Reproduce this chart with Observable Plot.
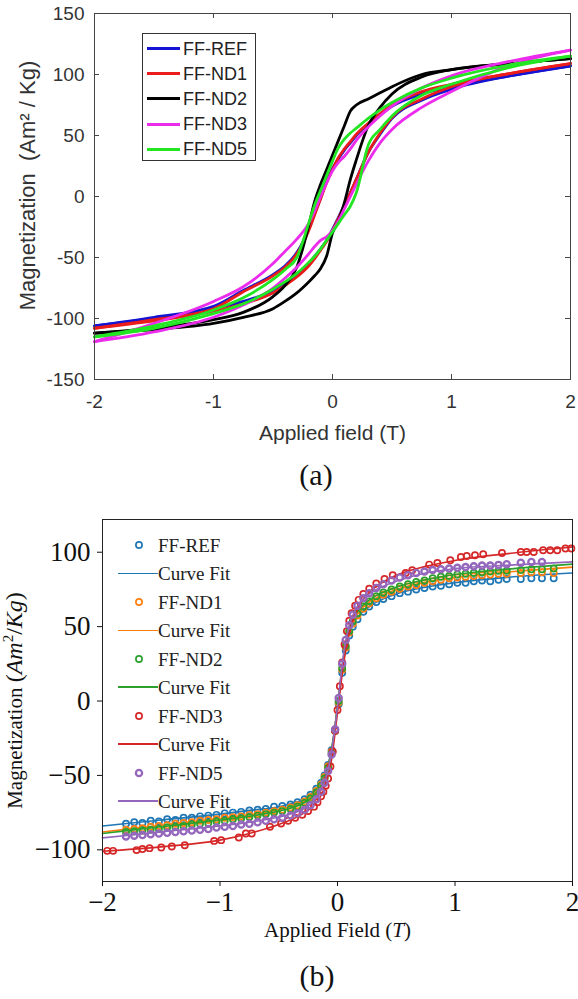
<!DOCTYPE html>
<html><head><meta charset="utf-8">
<script src="https://cdn.jsdelivr.net/npm/d3@7"></script>
<script src="https://cdn.jsdelivr.net/npm/@observablehq/plot@0.6"></script>
<style>
html,body{margin:0;padding:0;background:#fff;}
body{width:578px;height:999px;position:relative;overflow:hidden;}
#pa,#pb{position:absolute;left:0;}
.cap{position:absolute;transform:translate(-50%,-50%);font-family:"Liberation Serif",serif;font-size:30px;color:#111;line-height:1;white-space:nowrap;}
#legA{position:absolute;left:142px;top:33px;width:114px;height:128px;box-sizing:border-box;border:1px solid #333;background:#fff;font-family:"Liberation Sans",Arial,sans-serif;font-size:18px;color:#222;}
#legB{position:absolute;left:0;top:0;font-family:"Liberation Serif",serif;font-size:19px;color:#222;}
.row{position:absolute;height:0;}
.row span{position:absolute;white-space:nowrap;transform:translateY(-50%);line-height:1;}
.row i{position:absolute;display:block;}
</style></head><body>
<div id="pa" style="top:0"></div>
<div id="legA"></div>
<div class="cap" style="left:316px;top:475px">(a)</div>
<div id="pb" style="top:480px"></div>
<div id="legB"></div>
<div class="cap" style="left:317px;top:976px">(b)</div>
<script>
// ---------- Panel (a) data ----------
const seriesA = ["FF-REF", "FF-ND1", "FF-ND2", "FF-ND3", "FF-ND5"];
const colorsA = ["#1414d2", "#ea1c1c", "#000000", "#ec2cec", "#22e622"];
const fieldA = [-2, -1.5, -1, -0.75, -0.5, -0.4, -0.3, -0.2, -0.15, -0.1, -0.05, 0, 0.05, 0.1, 0.15, 0.2, 0.3, 0.4, 0.5, 0.75, 1, 1.5, 2];
// descending branch (coming from +2 T) and ascending branch, listed at fieldA
const descREF = [-106, -99, -90, -77, -64, -57, -46, -27, -14, -1, 12, 23, 31, 38, 44, 50, 59, 67, 74, 84, 90, 99, 107];
const ascREF  = [-106, -100, -92, -86, -77, -71, -64, -55, -49, -43, -36, -27, -17, -7, 3, 14, 36, 51, 64, 79, 88, 99, 107];
const descND1 = [-108, -101, -92, -78, -65, -58, -47, -28, -15, -2, 11, 22, 32, 39, 45, 51, 60, 68, 75, 86, 92, 101, 109];
const ascND1  = [-108, -102, -94, -88, -79, -73, -66, -57, -51, -44, -37, -28, -18, -7, 3, 14, 36, 52, 65, 80, 90, 101, 109];
const descND2 = [-112, -108, -101, -95, -82, -73, -58, -24, -4, 10, 22, 34, 46, 58, 70, 75, 80, 85, 90, 100, 104, 109, 113];
const ascND2  = [-112, -109, -104, -99, -92, -86, -79, -70, -65, -59, -49, -30, -20, -5, 14, 30, 58, 73, 84, 98, 104, 109, 113];
const descND3 = [-119, -104, -86, -74, -55, -45, -35, -22, -12, 0, 11, 21, 28, 33, 39, 46, 57, 66, 74, 89, 99, 111, 120];
const ascND3  = [-119, -111, -99, -89, -75, -67, -58, -47, -41, -36, -33, -28, -20, -10, 0, 10, 29, 44, 55, 73, 86, 108, 120];
const descND5 = [-115, -106, -93, -83, -68, -60, -50, -22, -7, 5, 17, 29, 40, 47, 52, 56, 64, 71, 77, 89, 97, 108, 115];
const ascND5  = [-115, -108, -96, -88, -76, -70, -63, -54, -49, -43, -36, -29, -22, -15, -8, 3, 42, 55, 66, 83, 92, 106, 115];
const ticksAx = [-2, -1, 0, 1, 2];
const ticksAy = [-150, -100, -50, 0, 50, 100, 150];

// ---------- Panel (b) data ----------
const seriesB = ["FF-REF", "FF-ND1", "FF-ND2", "FF-ND3", "FF-ND5"];
const colorsB = ["#1f77b4", "#ff7f0e", "#2ca02c", "#d62728", "#9467bd"];
const fieldB = [-1.8, -1.73, -1.66, -1.59, -1.52, -1.45, -1.38, -1.31, -1.24, -1.17, -1.1, -1.03, -0.96, -0.89, -0.82, -0.75, -0.68, -0.61, -0.54, -0.47, -0.4, -0.34, -0.28, -0.23, -0.18, -0.14, -0.11, -0.08, -0.05, -0.02, 0.01, 0.04, 0.07, 0.1, 0.13, 0.17, 0.22, 0.27, 0.33, 0.39, 0.46, 0.53, 0.6, 0.67, 0.74, 0.81, 0.88, 0.95, 1.02, 1.09, 1.16, 1.23, 1.3, 1.37, 1.44, 1.56, 1.65, 1.74, 1.84];
const ptsREF = [-82.5, -81.5, -82, -80.5, -81, -79.5, -80, -78.5, -78.5, -77.5, -77, -76.5, -75.5, -75, -74.5, -73.5, -73, -72.5, -71, -70.5, -69.5, -68, -66, -63, -59, -55, -50, -43, -33, -20, -2, 19, 34, 44, 50, 55, 60, 63.5, 66.5, 68.5, 70.5, 72.5, 73.5, 75, 76, 77, 77.5, 78.5, 79.5, 79.5, 80.5, 81, 80.5, 81.5, 82, 82, 82.5, 82.5, 82.5];
const ptsND1 = [-86.5, -86, -85.5, -84.5, -84, -83.5, -82.5, -82, -81.5, -80.5, -80, -79.5, -78.5, -78, -77.5, -76.5, -76, -75, -74, -73, -71.5, -70, -67.5, -64.5, -60.5, -56, -51, -44, -34, -20, -1, 21, 36, 46, 52, 57.5, 62, 65.5, 69, 71.5, 73.5, 75.5, 77, 78, 79.5, 80.5, 81.5, 82.5, 83, 83.5, 84, 84.5, 85, 85.5, 85.5, 86, 86.5, 86.5, 86];
const ptsND2 = [-88, -87.5, -87, -86.5, -86, -85, -84.5, -84, -83, -82.5, -82, -81, -80.5, -79.5, -79, -78, -77, -76, -75, -74, -72.5, -71, -68.5, -65.5, -61.5, -57, -52, -45, -35, -20, 0, 22, 37, 47, 53.5, 59, 63.5, 67, 70.5, 73, 75, 77, 78.5, 80, 81, 82.5, 83.5, 84, 85, 85.5, 86, 86.5, 87, 87.5, 87.5, 88, 88.5, 88.5, 89];
const ptsND5 = [-91, -90.5, -90, -89.5, -89, -88.5, -88, -87.5, -87, -86.5, -86, -85, -84.5, -84, -83, -82.5, -81.5, -80.5, -79.5, -78.5, -77, -75.5, -73, -70, -66, -61, -55, -47, -36, -19, 2, 25, 41, 51, 58, 64, 69, 72.5, 76, 78.5, 81, 83, 84.5, 86, 87, 88, 88.5, 89, 89.5, 90, 90.5, 91, 91, 91.5, 92, 93, 93.5, 93.5, null];
const fieldND3 = [-1.96, -1.91, -1.71, -1.66, -1.6, -1.5, -1.41, -1.3, -1.05, -0.99, -0.84, -0.78, -0.73, -0.575, -0.48, -0.42, -0.36, -0.3, -0.25, -0.2, -0.17, -0.14, -0.12, -0.1, -0.08, -0.06, -0.04, -0.02, 0, 0.02, 0.04, 0.06, 0.08, 0.1, 0.12, 0.15, 0.18, 0.22, 0.27, 0.33, 0.4, 0.47, 0.58, 0.636, 0.78, 0.85, 0.96, 1.05, 1.1, 1.17, 1.24, 1.4, 1.56, 1.61, 1.67, 1.75, 1.81, 1.87, 1.94, 1.99];
const ptsND3 = [-100.7, -100.7, -100.2, -99.5, -98.9, -98.4, -97.8, -96.9, -94, -93.5, -91.7, -89, -89, -84.5, -82.3, -80.5, -78.5, -76.5, -74, -71, -68, -64, -61, -57, -52, -44, -34, -20, -6, 10, 26, 38, 47, 54, 59, 64, 68, 72, 75.5, 79, 82, 84.5, 86, 87.9, 91.7, 92.8, 94.6, 96.8, 97.5, 98, 98.6, 99.5, 100.2, 100.2, 100.2, 101.3, 101.3, 101.3, 102.5, 102.5];
const fitField = [-2, -1.5, -1, -0.75, -0.5, -0.4, -0.3, -0.2, -0.15, -0.1, -0.05, 0, 0.05, 0.1, 0.15, 0.2, 0.3, 0.4, 0.5, 0.75, 1, 1.5, 2];
const fitREF = [-84, -80, -76, -73.5, -71, -69, -66.5, -61, -56, -48, -32, -4, 27, 45, 54, 59, 65, 69, 72, 76.5, 79.5, 83.5, 86];
const fitND1 = [-88, -83.5, -79, -76.5, -73, -71, -68, -62.5, -57, -49, -33, -4, 28, 47, 56, 61.5, 68, 72, 75, 80, 83, 87, 90];
const fitND2 = [-89, -84.5, -80, -77.5, -74, -72, -69, -63.5, -58, -50, -33, -4, 29, 48, 57.5, 63, 69.5, 73.5, 76.5, 81.5, 85, 89, 92];
const fitND3 = [-101, -98, -93.5, -89, -83, -80, -76, -70, -65, -56, -39, -8, 24, 46, 58, 66, 75, 80.5, 84.5, 90.5, 94.5, 99.5, 103.5];
const fitND5 = [-92, -88, -84, -81.5, -78, -76, -73, -67, -61, -52, -34, -4, 31, 51, 61, 67, 73.5, 77.5, 80.5, 86, 89, 91.5, 93.5];
const ticksBx = [-2, -1, 0, 1, 2];
const ticksBy = [-100, -50, 0, 50, 100];

// ---------- build tables ----------
const loopsA = [[descREF, ascREF], [descND1, ascND1], [descND2, ascND2], [descND3, ascND3], [descND5, ascND5]]
  .map(([d, a]) => fieldA.flatMap((H, i) => [{H, M: d[i], branch: "desc"}, {H, M: a[i], branch: "asc"}]));
const ptsB = [[fieldB, ptsREF], [fieldB, ptsND1], [fieldB, ptsND2], [fieldND3, ptsND3], [fieldB, ptsND5]]
  .map(([hs, ms]) => hs.map((H, i) => ({H, M: ms[i]})).filter(d => d.M != null));
const fitsB = [fitREF, fitND1, fitND2, fitND3, fitND5].map(ms => fitField.map((H, i) => ({H, M: ms[i]})));

// ---------- Panel (a) ----------
const W = 578;
const mA = {left: 94, right: 8, top: 13, bottom: 71}, hA = 450;
const iwA = W - mA.left - mA.right, ihA = hA - mA.top - mA.bottom;
const plotA = Plot.plot({
  width: W, height: hA,
  marginLeft: mA.left, marginRight: mA.right, marginTop: mA.top, marginBottom: mA.bottom,
  style: {fontFamily: "'Liberation Sans', Arial, sans-serif", background: "transparent", color: "#333", overflow: "visible"},
  x: {domain: [-2, 2]},
  y: {domain: [-150, 150]},
  marks: [
    ...loopsA.map((pts, i) => Plot.line(pts, {x: "H", y: "M", z: "branch", stroke: colorsA[i], strokeWidth: 2.8, curve: "monotone-x"})),
    Plot.frame({stroke: "#444"}),
    Plot.ruleY(ticksAy, {insetRight: iwA - 5, stroke: "#444"}),
    Plot.ruleY(ticksAy, {insetLeft: iwA - 5, stroke: "#444"}),
    Plot.ruleX(ticksAx, {insetTop: ihA - 5, stroke: "#444"}),
    Plot.ruleX(ticksAx, {insetBottom: ihA - 5, stroke: "#444"}),
    Plot.axisX({ticks: ticksAx, tickSize: 0, tickPadding: 15, tickFormat: d => String(d), fontSize: 19, label: null}),
    Plot.axisY({ticks: ticksAy, tickSize: 0, tickPadding: 10, tickFormat: d => String(d), fontSize: 19, label: null}),
    Plot.text(["Applied field (T)"], {frameAnchor: "bottom", dy: 54, fontSize: 21, textAnchor: "middle", lineAnchor: "middle"}),
    Plot.text(["Magnetization\u00a0\u00a0(Am\u00b2 / Kg)"], {frameAnchor: "left", dx: -67, dy: -11, rotate: -90, fontSize: 22, textAnchor: "middle", lineAnchor: "middle"})
  ]
});
document.getElementById("pa").appendChild(plotA);

// legend (a)
const legA = document.getElementById("legA");
seriesA.forEach((name, i) => {
  const row = document.createElement("div");
  row.className = "row";
  row.style.top = (14.5 + i * 25.2) + "px";
  row.innerHTML = `<i style="left:4px;width:33px;height:3px;top:-1.5px;background:${colorsA[i]}"></i><span style="left:40px">${name}</span>`;
  legA.appendChild(row);
});

// ---------- Panel (b) ----------
const mB = {left: 102, right: 6, top: 39, bottom: 70}, hB = 471;
const minus = d => (d < 0 ? "\u2212" + Math.abs(d) : String(d));
const plotB = Plot.plot({
  width: W, height: hB,
  marginLeft: mB.left, marginRight: mB.right, marginTop: mB.top, marginBottom: mB.bottom,
  style: {fontFamily: "'Liberation Serif', serif", background: "transparent", color: "#111", overflow: "visible"},
  x: {domain: [-2, 2]},
  y: {domain: [-121.3, 122]},
  marks: [
    ...ptsB.flatMap((pts, i) => [
      Plot.dot(pts, {x: "H", y: "M", r: 3.1, stroke: colorsB[i], strokeWidth: i === 4 ? 2.3 : 1.7, fill: "none"}),
      Plot.line(fitsB[i], {x: "H", y: "M", stroke: colorsB[i], strokeWidth: 1.6, curve: "monotone-x"})
    ]),
    Plot.frame({stroke: "#222"}),
    Plot.axisX({ticks: ticksBx, tickSize: 5, tickPadding: 5, tickFormat: minus, fontSize: 27, label: null}),
    Plot.axisY({ticks: ticksBy, tickSize: 5, tickPadding: 7, tickFormat: minus, fontSize: 27, label: null}),
    Plot.text(["Applied Field (T)"], {frameAnchor: "bottom", dy: 49, fontSize: 21, textAnchor: "middle", lineAnchor: "middle", ariaDescription: "xlabel-b"}),
    Plot.text(["Magnetization (Am\u00b2/Kg)"], {frameAnchor: "left", dx: -87, rotate: -90, fontSize: 21, textAnchor: "middle", lineAnchor: "middle", ariaDescription: "ylabel-b"})
  ]
});
document.getElementById("pb").appendChild(plotB);

// rich label formatting (italic math parts)
function labelText(key) {
  return d3.select(plotB).select(`[aria-description="${key}"]`).select("text");
}
const xl = labelText("xlabel-b");
if (!xl.empty()) {
  xl.text(null);
  xl.append("tspan").text("Applied Field (");
  xl.append("tspan").style("font-style", "italic").text("T");
  xl.append("tspan").text(")");
}
const yl = labelText("ylabel-b");
if (!yl.empty()) {
  yl.text(null);
  yl.append("tspan").style("font-size", "21px").text("Magnetization ");
  yl.append("tspan").style("font-size", "24px").text("(");
  yl.append("tspan").style("font-size", "24px").style("font-style", "italic").text("Am");
  yl.append("tspan").style("font-size", "15px").attr("dy", -9).text("2");
  yl.append("tspan").style("font-size", "24px").attr("dy", 9).text("/");
  yl.append("tspan").style("font-size", "24px").style("font-style", "italic").text("Kg");
  yl.append("tspan").style("font-size", "24px").text(")");
}

// legend (b)
const legB = document.getElementById("legB");
seriesB.forEach((name, i) => {
  const y0 = 545 + i * 2 * 28.45;
  const r1 = document.createElement("div");
  r1.className = "row";
  r1.style.top = y0 + "px";
  r1.innerHTML = `<svg style="position:absolute;left:133px;top:-6px" width="12" height="12"><circle cx="6" cy="6" r="3.1" fill="none" stroke="${colorsB[i]}" stroke-width="${i === 4 ? 2.3 : 1.7}"/></svg><span style="left:158px">${name}</span>`;
  legB.appendChild(r1);
  const r2 = document.createElement("div");
  r2.className = "row";
  r2.style.top = (y0 + 28.45) + "px";
  r2.innerHTML = `<i style="left:118px;width:40px;height:1.6px;top:-0.8px;background:${colorsB[i]}"></i><span style="left:158px">Curve Fit</span>`;
  legB.appendChild(r2);
});
</script>
</body></html>
